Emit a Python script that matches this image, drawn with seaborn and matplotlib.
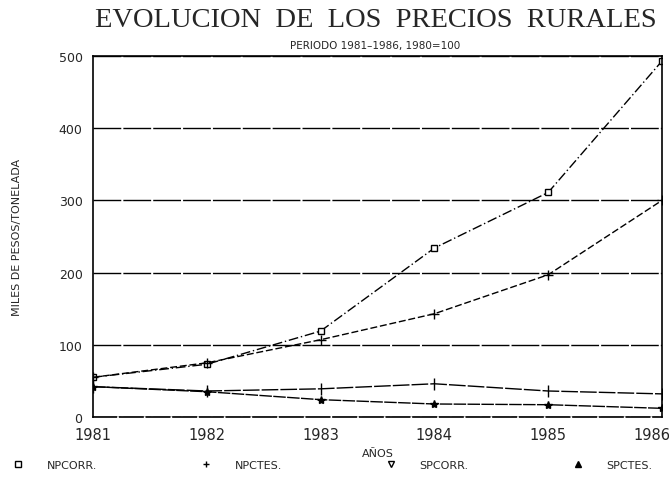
import matplotlib
matplotlib.use("Agg")
import matplotlib.pyplot as plt
import matplotlib.transforms as mtransforms
import seaborn as sns
import pandas as pd
from matplotlib.lines import Line2D

# data
years = [1981, 1982, 1983, 1984, 1985, 1986]
npcorr = [55, 73, 119, 234, 311, 493]
npctes = [55, 75, 107, 143, 197, 300]
spcorr = [42, 36, 39, 46, 36, 32]
spctes = [42, 35, 24, 18, 17, 12]
series_names = ["NPCORR.", "NPCTES.", "SPCORR.", "SPCTES."]
y_ticks = [0, 100, 200, 300, 400, 500]

df = pd.DataFrame({
    "year": years * 4,
    "value": npcorr + npctes + spcorr + spctes,
    "serie": sum([[n] * len(years) for n in series_names], []),
})

sns.set_style("white")
plt.rcParams["font.family"] = ["DejaVu Sans"]

styles = {
    "NPCORR.": dict(marker="s", ms=5, mfc="white", dashes=(7, 2, 1, 2)),
    "NPCTES.": dict(marker="+", ms=7, mfc="black", dashes=(5, 2)),
    "SPCORR.": dict(marker="|", ms=8, mfc="black", dashes=(12, 1.5)),
    "SPCTES.": dict(marker="*", ms=6, mfc="black", dashes=(9, 1)),
}

fig = plt.figure(figsize=(6.69, 4.81), dpi=100)
ax = fig.add_axes([0.139, 0.131, 0.8505, 0.7505])

for name in series_names:
    st = styles[name]
    sns.lineplot(data=df[df["serie"] == name], x="year", y="value",
                 color="black", lw=1.0, marker=st["marker"], markersize=st["ms"],
                 markerfacecolor=st["mfc"], markeredgecolor="black",
                 markeredgewidth=1.0, dashes=False, ax=ax, legend=False)
    ax.lines[-1].set_dashes(st["dashes"])

ax.set_xlim(1981, 1986)
ax.set_ylim(0, 500)
ax.set_xticks(years)
ax.set_xticklabels([str(y) for y in years], fontsize=10.5)
ax.set_yticks(y_ticks)
ax.set_yticklabels([str(t) for t in y_ticks], fontsize=9)
ax.tick_params(axis="both", direction="inout", length=8, width=1, color="black")
# keep the last year label inside the figure
last = ax.get_xticklabels()[-1]
last.set_horizontalalignment("right")
last.set_transform(last.get_transform() +
                   mtransforms.ScaledTranslation(6 / 72, 0, fig.dpi_scale_trans))
ax.yaxis.grid(True, color="black", lw=1.0, ls=(0, (20, 1.5)))
for side in ["left", "right", "top", "bottom"]:
    ax.spines[side].set_color("black")
    ax.spines[side].set_linewidth(1.2)
ax.spines["bottom"].set_linestyle((0, (14, 2)))
ax.set_xlabel("AÑOS", fontsize=8, labelpad=4)
ax.set_ylabel("MILES DE PESOS/TONELADA", fontsize=8, labelpad=26)

fig.text(0.562, 0.957, "EVOLUCION  DE  LOS  PRECIOS  RURALES",
         family="Liberation Serif", fontsize=20.5, ha="center", va="center")
fig.text(0.56, 0.905, "PERIODO 1981–1986, 1980=100", fontsize=7.5,
         ha="center", va="center")

handles = [Line2D([], [], color="black", lw=0, marker=styles[n]["marker"],
                  ms=5, mfc=styles[n]["mfc"], mec="black") for n in series_names]
handles[2] = Line2D([], [], color="black", lw=0, marker="v", ms=4,
                    mfc="white", mec="black")
handles[3] = Line2D([], [], color="black", lw=0, marker="^", ms=4,
                    mfc="black", mec="black")
fig.legend(handles, series_names, loc="lower left", ncol=4, mode="expand",
           bbox_to_anchor=(0.0, 0.0, 0.99, 0.05), frameon=False,
           fontsize=8, handlelength=1.5, handletextpad=1.8)

fig.savefig("out.png", dpi=100)
